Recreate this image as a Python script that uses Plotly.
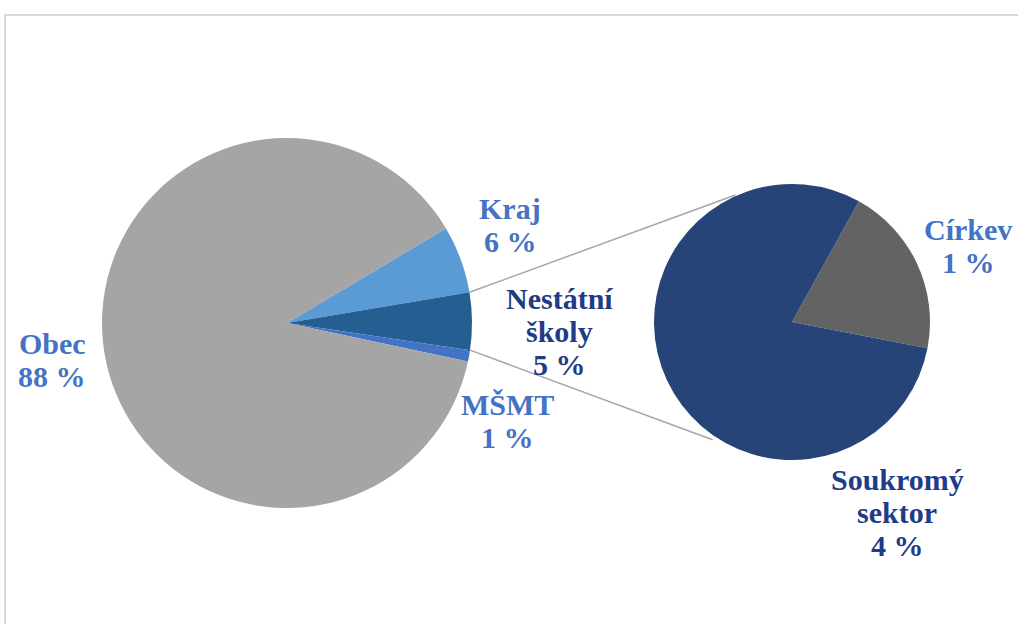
import math
import plotly.graph_objects as go

W, H = 1018, 624

# hlavní koláč
main_labels = ["Kraj", "Nestátní školy", "MŠMT", "Obec"]
main_values = [5.9, 5.0, 1.0, 88.1]
main_text = [["Kraj", "6 %"], ["Nestátní", "školy", "5 %"], ["MŠMT", "1 %"], ["Obec", "88 %"]]
main_colors = ["#5B9BD5", "#255E91", "#4472C4", "#A5A5A5"]

# vedlejší koláč (rozpad nestátních škol)
sub_labels = ["Církev", "Soukromý sektor"]
sub_values = [1.0, 4.0]
sub_text = [["Církev", "1 %"], ["Soukromý", "sektor", "4 %"]]
sub_colors = ["#636363", "#264478"]

light = "#4472C4"
dark = "#1F3C88"
main_label_colors = [light, dark, light, light]
sub_label_colors = [light, dark]

# geometrie v pixelech
c1, r1, rot1 = (287, 323), 185, 59.2
c2, r2, rot2 = (792, 322), 138, 29


def px2paper(x, y):
    return x / W, 1 - y / H


def dom(c, r):
    x0, y1 = px2paper(c[0] - r, c[1] - r)
    x1, y0 = px2paper(c[0] + r, c[1] + r)
    return dict(x=[x0, x1], y=[y0, y1])


def rim(c, r, ang):
    a = math.radians(ang)
    return c[0] + r * math.sin(a), c[1] - r * math.cos(a)


fig = go.Figure()
fig.add_trace(go.Pie(
    labels=main_labels, values=main_values, sort=False, direction="clockwise",
    rotation=rot1, marker=dict(colors=main_colors, line=dict(width=0)),
    textinfo="none", hoverinfo="label+percent", domain=dom(c1, r1), showlegend=False
))
fig.add_trace(go.Pie(
    labels=sub_labels, values=sub_values, sort=False, direction="clockwise",
    rotation=rot2, marker=dict(colors=sub_colors, line=dict(width=0)),
    textinfo="none", hoverinfo="label+value", domain=dom(c2, r2), showlegend=False
))

# spojovací čáry z okrajů výseče "Nestátní školy"
tot = sum(main_values)
a_start = rot1 + 360 * main_values[0] / tot
a_end = a_start + 360 * main_values[1] / tot
p1 = rim(c1, r1, a_start)
p2 = rim(c1, r1, a_end)
q1 = rim(c2, r2 + 1, -24)
q2 = rim(c2, r2 + 4, 214)
for p, q in [(p1, q1), (p2, q2)]:
    x0, y0 = px2paper(*p)
    x1, y1 = px2paper(*q)
    fig.add_shape(type="line", xref="paper", yref="paper", x0=x0, y0=y0, x1=x1, y1=y1,
                  line=dict(color="#A6A6A6", width=1.5), layer="below")

# rámeček grafu
bx0, by1 = px2paper(5, 15)
fig.add_shape(type="rect", xref="paper", yref="paper",
              x0=bx0, y0=-0.05, x1=1.05, y1=by1,
              line=dict(color="#D9D9D9", width=2), layer="below")

# popisky (každý řádek zvlášť kvůli řádkování)
pitch = 33
main_pos = [(510, 225), (559, 331), (507, 421), (52, 360)]
sub_pos = [(968, 246), (897, 512)]
for lines, col, pos in zip(main_text + sub_text, main_label_colors + sub_label_colors,
                           main_pos + sub_pos):
    n = len(lines)
    for i, ln in enumerate(lines):
        x, y = px2paper(pos[0], pos[1] + (i - (n - 1) / 2) * pitch)
        fig.add_annotation(x=x, y=y, xref="paper", yref="paper", text="<b>" + ln + "</b>",
                           showarrow=False, xanchor="center", yanchor="middle",
                           font=dict(family="Liberation Serif", size=30, color=col))

fig.update_layout(width=W, height=H, margin=dict(l=0, r=0, t=0, b=0),
                  paper_bgcolor="white", plot_bgcolor="white")
fig.write_html("out.html", config={"displayModeBar": False},
               post_script="document.body.style.margin='0';")
